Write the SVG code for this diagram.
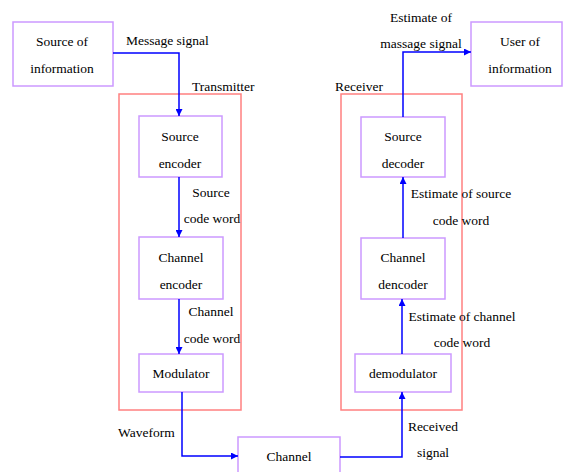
<svg xmlns="http://www.w3.org/2000/svg" width="563" height="472" viewBox="0 0 563 472" font-family="'Liberation Serif', 'Times New Roman', serif" font-size="13.5">
<style>
.node{fill:#ffffff;stroke:#cc99ff;stroke-width:1.5}
.grp{fill:none;stroke:#ff8080;stroke-width:1.5}
.ln{fill:none;stroke:#0000ff;stroke-width:1.5}
text{font-family:'Liberation Serif','Times New Roman',serif;font-size:13.5px;fill:#000000}
.c{text-anchor:middle}
</style>
<defs>
<marker id="ah" viewBox="0 0 10 10" refX="10" refY="5" markerWidth="7" markerHeight="7" markerUnits="userSpaceOnUse" orient="auto">
<path d="M0,0 L10,5 L0,10 z" fill="#0000ff"/>
</marker>
</defs>
<rect width="563" height="472" fill="#ffffff"/>
<g id="transmitter">
<rect class="grp" x="119" y="94" width="122" height="316"/>
<text x="192" y="91">Transmitter</text>
</g>
<g id="receiver">
<rect class="grp" x="341" y="94" width="121" height="316"/>
<text x="335" y="91">Receiver</text>
</g>
<g id="source-of-information">
<rect class="node" x="13" y="22" width="100" height="64"/>
<text class="c" x="62" y="46">Source of</text>
<text class="c" x="62" y="73">information</text>
</g>
<g id="source-encoder">
<rect class="node" x="139" y="116" width="83" height="61"/>
<text class="c" x="180" y="141">Source</text>
<text class="c" x="180" y="168">encoder</text>
</g>
<g id="channel-encoder">
<rect class="node" x="139" y="237" width="84" height="62"/>
<text class="c" x="181" y="262">Channel</text>
<text class="c" x="181" y="289">encoder</text>
</g>
<g id="modulator">
<rect class="node" x="139" y="354" width="84" height="38"/>
<text class="c" x="181" y="378">Modulator</text>
</g>
<g id="channel">
<rect class="node" x="238" y="437" width="102" height="40"/>
<text class="c" x="289" y="461">Channel</text>
</g>
<g id="demodulator">
<rect class="node" x="355" y="354" width="96" height="38"/>
<text class="c" x="403" y="378">demodulator</text>
</g>
<g id="channel-decoder">
<rect class="node" x="361" y="238" width="84" height="61"/>
<text class="c" x="403" y="262">Channel</text>
<text class="c" x="403" y="289">dencoder</text>
</g>
<g id="source-decoder">
<rect class="node" x="361" y="117" width="84" height="60"/>
<text class="c" x="403" y="141">Source</text>
<text class="c" x="403" y="168">decoder</text>
</g>
<g id="user-of-information">
<rect class="node" x="471" y="22" width="91" height="64"/>
<text class="c" x="520" y="46">User of</text>
<text class="c" x="520" y="73">information</text>
</g>
<g id="connectors">
<polyline class="ln" points="113,53 179,53 179,116" marker-end="url(#ah)"/>
<line class="ln" x1="179" y1="177" x2="179" y2="237" marker-end="url(#ah)"/>
<line class="ln" x1="179" y1="299" x2="179" y2="354" marker-end="url(#ah)"/>
<polyline class="ln" points="182,392 182,456 238,456" marker-end="url(#ah)"/>
<polyline class="ln" points="340,457 402,457 402,392" marker-end="url(#ah)"/>
<line class="ln" x1="402" y1="354" x2="402" y2="299" marker-end="url(#ah)"/>
<line class="ln" x1="403" y1="238" x2="403" y2="177" marker-end="url(#ah)"/>
<polyline class="ln" points="403,117 403,52 471,52" marker-end="url(#ah)"/>
<text x="126" y="45">Message signal</text>
<text class="c" x="211" y="197">Source</text>
<text class="c" x="212" y="223">code word</text>
<text class="c" x="211" y="316">Channel</text>
<text class="c" x="212" y="343">code word</text>
<text x="118" y="437">Waveform</text>
<text class="c" x="433" y="431">Received</text>
<text class="c" x="433" y="457">signal</text>
<text class="c" x="462" y="321">Estimate of channel</text>
<text class="c" x="462" y="347">code word</text>
<text class="c" x="461" y="198">Estimate of source</text>
<text class="c" x="461" y="225">code word</text>
<text class="c" x="421" y="22">Estimate of</text>
<text class="c" x="421" y="48">massage signal</text>
</g>
</svg>
